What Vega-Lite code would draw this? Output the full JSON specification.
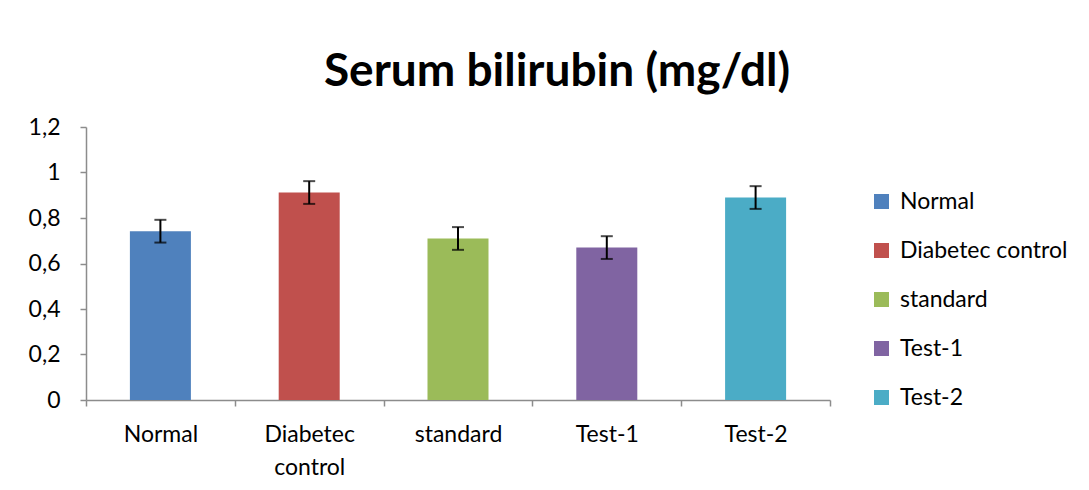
{
  "$schema": "https://vega.github.io/schema/vega-lite/v6.json",
  "width": 744,
  "height": 273,
  "autosize": {"type": "none"},
  "padding": {"left": 86, "top": 127, "right": 259, "bottom": 90},
  "background": "white",
  "title": {"text": "Serum bilirubin (mg/dl)", "font": "Lato", "fontSize": 46, "fontWeight": "bold", "color": "black", "anchor": "middle", "frame": "group", "offset": 20, "dx": 99},
  "data": {"values": [
    {"group": "Normal", "value": 0.742, "err": 0.05},
    {"group": "Diabetec control", "value": 0.912, "err": 0.05},
    {"group": "standard", "value": 0.71, "err": 0.05},
    {"group": "Test-1", "value": 0.67, "err": 0.05},
    {"group": "Test-2", "value": 0.89, "err": 0.05}
  ]},
  "encoding": {
    "x": {"field": "group", "type": "nominal", "sort": null,
      "scale": {"paddingInner": 0, "paddingOuter": 0},
      "axis": {"title": null, "tickBand": "extent", "domainColor": "#8c8c8c", "tickColor": "#8c8c8c", "tickSize": 6, "domainWidth": 1.5, "tickWidth": 1.5,
        "labelFont": "Lato", "labelFontSize": 23, "labelColor": "black", "labelAngle": 0, "labelPadding": 17, "labelLineHeight": 33,
        "labelExpr": "split(datum.label, ' ')"}}
  },
  "layer": [
    {
      "mark": {"type": "bar", "width": {"band": 0.41}},
      "encoding": {
        "y": {"field": "value", "type": "quantitative", "scale": {"domain": [0, 1.2]},
          "axis": {"title": null, "grid": false, "values": [0, 0.2, 0.4, 0.6, 0.8, 1, 1.2], "domainColor": "#8c8c8c", "tickColor": "#8c8c8c", "tickSize": 6, "domainWidth": 1.5, "tickWidth": 1.5,
            "labelFont": "Lato", "labelFontSize": 23, "labelColor": "black", "labelPadding": 20,
            "labelExpr": "replace(format(datum.value, ''), '.', ',')"}},
        "color": {"field": "group", "type": "nominal",
          "scale": {"domain": ["Normal", "Diabetec control", "standard", "Test-1", "Test-2"], "range": ["#4F81BD", "#C0504D", "#9BBB59", "#8064A2", "#4BACC6"]},
          "legend": {"title": null, "orient": "none", "legendX": 784, "legendY": 63, "symbolType": "square", "symbolSize": 225, "symbolStrokeWidth": 0, "symbolOpacity": 1,
            "labelFont": "Lato", "labelFontSize": 23, "labelColor": "black", "labelOffset": 7, "labelLimit": 400, "rowPadding": 25}}
      }
    },
    {
      "mark": {"type": "errorbar", "color": "black", "thickness": 2, "ticks": {"size": 12}},
      "encoding": {
        "y": {"field": "value", "type": "quantitative"},
        "yError": {"field": "err"}
      }
    }
  ],
  "config": {"view": {"stroke": null}}
}
